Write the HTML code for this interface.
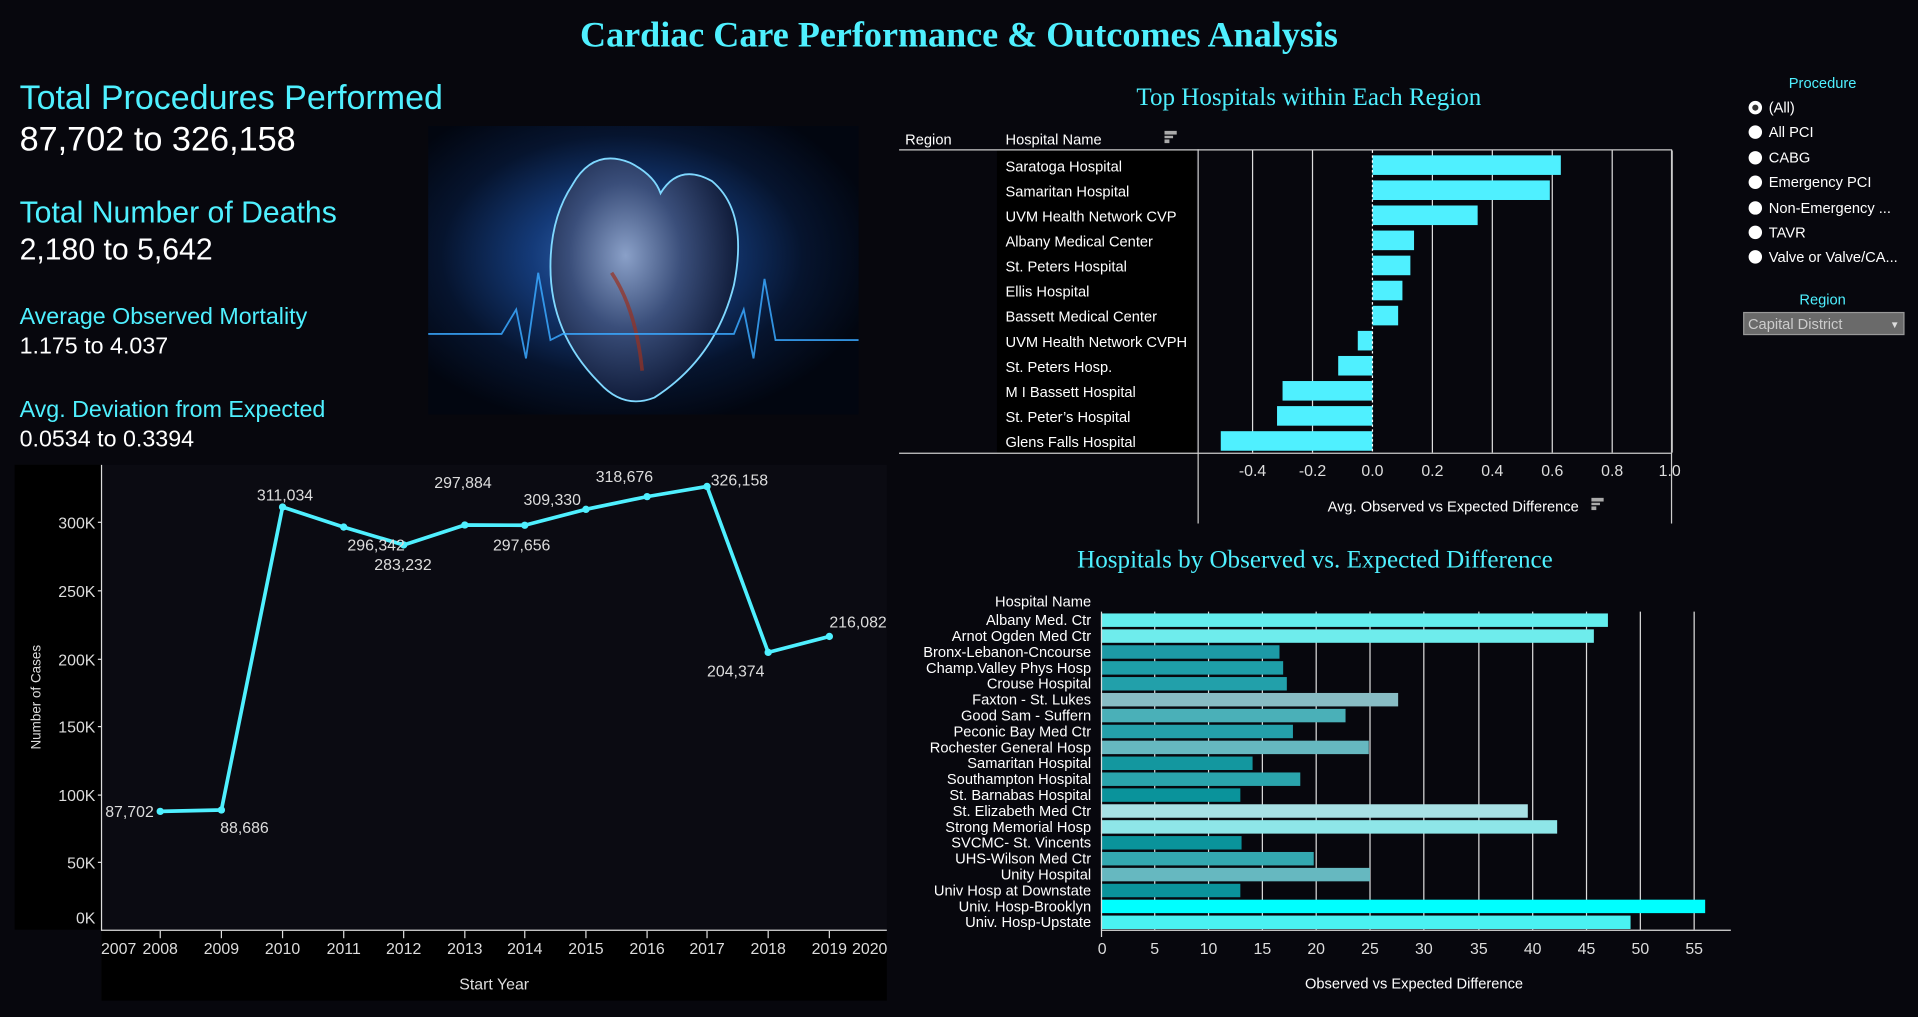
<!DOCTYPE html>
<html><head><meta charset="utf-8"><style>
html,body{margin:0;padding:0;background:#07070d;overflow:hidden}
#w{width:1568px;height:831px;transform:scale(1.22322);transform-origin:0 0;position:relative;background:#07070d;font-family:"Liberation Sans",sans-serif}
.t{position:absolute;white-space:nowrap}
.c{color:#4ff0ff}
</style></head><body><div id="w">
<div class="t" style="left:0;width:1568px;text-align:center;top:13px;font-family:'Liberation Serif',serif;font-weight:bold;font-size:29.5px;color:#4ff0ff">Cardiac Care Performance &amp; Outcomes Analysis</div>
<div class="t c" style="left:16px;top:64px;font-size:27.8px">Total Procedures Performed</div>
<div class="t" style="left:16px;top:98px;font-size:28px;color:#fff">87,702 to 326,158</div>
<div class="t c" style="left:16px;top:161px;font-size:24.7px">Total Number of Deaths</div>
<div class="t" style="left:16px;top:191px;font-size:24.7px;color:#fff">2,180 to 5,642</div>
<div class="t c" style="left:16px;top:249px;font-size:19px">Average Observed Mortality</div>
<div class="t" style="left:16px;top:273px;font-size:19px;color:#fff">1.175 to 4.037</div>
<div class="t c" style="left:16px;top:325px;font-size:19px">Avg. Deviation from Expected</div>
<div class="t" style="left:16px;top:349px;font-size:19px;color:#fff">0.0534 to 0.3394</div>
<!-- heart image -->
<svg class="t" style="left:350px;top:103px" width="352" height="236">
<defs><radialGradient id="hg" cx="0.45" cy="0.45" r="0.6"><stop offset="0" stop-color="#3a70c0"/><stop offset="0.35" stop-color="#143a78"/><stop offset="0.7" stop-color="#06142e"/><stop offset="1" stop-color="#020610"/></radialGradient>
<radialGradient id="hh" cx="0.4" cy="0.4" r="0.6"><stop offset="0" stop-color="#8aa0c8"/><stop offset="0.5" stop-color="#3a4e7a"/><stop offset="1" stop-color="#101c3a"/></radialGradient></defs>
<rect width="352" height="236" fill="url(#hg)"/>
<path d="M118 48 Q135 18 165 30 Q185 40 190 55 Q205 30 232 45 Q262 70 250 130 Q235 190 185 222 Q160 232 140 210 Q100 170 100 115 Q100 75 118 48Z" fill="url(#hh)" stroke="#7fd8ff" stroke-width="1.5"/>
<path d="M150 120 Q170 150 175 200" stroke="#9a3020" stroke-width="3" fill="none" opacity="0.7"/>
<polyline points="0,170 60,170 72,150 80,190 90,120 100,175 110,170 250,170 258,150 266,190 275,125 284,175 352,175" fill="none" stroke="#3aa8ff" stroke-width="1.5" opacity="0.85"/>
</svg>
<!-- line chart -->
<svg class="t" style="left:0;top:0" width="730" height="831">
<rect x="12" y="380" width="71" height="380" fill="#000"/>
<rect x="83" y="380" width="642" height="380" fill="#0b0b12"/>
<rect x="83" y="760" width="642" height="58" fill="#000"/>
<line x1="83" y1="380" x2="83" y2="761" stroke="#ddd" stroke-width="1"/>
<line x1="83" y1="760.5" x2="725" y2="760.5" stroke="#ddd" stroke-width="1"/>
<g fill="#ddd" font-size="13" text-anchor="end">
<text x="78" y="432">300K</text><text x="78" y="488">250K</text><text x="78" y="544">200K</text><text x="78" y="599">150K</text><text x="78" y="655">100K</text><text x="78" y="710">50K</text><text x="78" y="755">0K</text>
</g>
<g stroke="#ddd"><line x1="80" y1="427" x2="83" y2="427"/><line x1="80" y1="483" x2="83" y2="483"/><line x1="80" y1="539" x2="83" y2="539"/><line x1="80" y1="594" x2="83" y2="594"/><line x1="80" y1="650" x2="83" y2="650"/><line x1="80" y1="705" x2="83" y2="705"/>
<line x1="131" y1="761" x2="131" y2="767"/><line x1="181" y1="761" x2="181" y2="767"/><line x1="231" y1="761" x2="231" y2="767"/><line x1="281" y1="761" x2="281" y2="767"/><line x1="330" y1="761" x2="330" y2="767"/><line x1="380" y1="761" x2="380" y2="767"/><line x1="429" y1="761" x2="429" y2="767"/><line x1="479" y1="761" x2="479" y2="767"/><line x1="529" y1="761" x2="529" y2="767"/><line x1="578" y1="761" x2="578" y2="767"/><line x1="628" y1="761" x2="628" y2="767"/><line x1="678" y1="761" x2="678" y2="767"/></g>
<g fill="#ddd" font-size="13" text-anchor="middle">
<text x="97" y="780">2007</text><text x="131" y="780">2008</text><text x="181" y="780">2009</text><text x="231" y="780">2010</text><text x="281" y="780">2011</text><text x="330" y="780">2012</text><text x="380" y="780">2013</text><text x="429" y="780">2014</text><text x="479" y="780">2015</text><text x="529" y="780">2016</text><text x="578" y="780">2017</text><text x="628" y="780">2018</text><text x="678" y="780">2019</text><text x="711" y="780">2020</text>
<text x="404" y="809" font-size="13">Start Year</text>
</g>
<text transform="translate(33,570) rotate(-90)" fill="#ddd" font-size="11" text-anchor="middle">Number of Cases</text>
<polyline points="131,663.3 181,662.2 231,414.5 281,430.9 330,445.5 380,429.2 429,429.4 479,416.4 529,406 578,397.7 628,533.3 678,520.3" fill="none" stroke="#4ff0ff" stroke-width="3" stroke-linejoin="round"/>
<g fill="#4ff0ff"><circle cx="131" cy="663.3" r="3"/><circle cx="181" cy="662.2" r="3"/><circle cx="231" cy="414.5" r="3"/><circle cx="281" cy="430.9" r="3"/><circle cx="330" cy="445.5" r="3"/><circle cx="380" cy="429.2" r="3"/><circle cx="429" cy="429.4" r="3"/><circle cx="479" cy="416.4" r="3"/><circle cx="529" cy="406" r="3"/><circle cx="578" cy="397.7" r="3"/><circle cx="628" cy="533.3" r="3"/><circle cx="678" cy="520.3" r="3"/></g>
<g fill="#ddd" font-size="13">
<text x="86" y="668">87,702</text><text x="180" y="681">88,686</text><text x="210" y="409">311,034</text><text x="284" y="450">296,342</text><text x="306" y="466">283,232</text><text x="355" y="399">297,884</text><text x="403" y="450">297,656</text><text x="428" y="413">309,330</text><text x="487" y="394">318,676</text><text x="581" y="397">326,158</text><text x="578" y="553">204,374</text><text x="678" y="513">216,082</text>
</g>
</svg>
<!-- top bar chart -->
<svg class="t" style="left:0;top:0" width="1568" height="831">
<text x="1070" y="86" fill="#4ff0ff" font-family="Liberation Serif,serif" font-size="20.5" text-anchor="middle">Top Hospitals within Each Region</text>
<text x="740" y="118" fill="#fff" font-size="12">Region</text>
<text x="822" y="118" fill="#fff" font-size="12">Hospital Name</text>
<g fill="#aaa"><rect x="952" y="107" width="10" height="3"/><rect x="952" y="111" width="7" height="2"/><rect x="952" y="114" width="4" height="3"/></g>
<rect x="815" y="123" width="163" height="247" fill="#000"/>
<g stroke="#ddd" stroke-width="1"><line x1="1024" y1="123" x2="1024" y2="370"/><line x1="1073" y1="123" x2="1073" y2="370"/><line x1="1171" y1="123" x2="1171" y2="370"/><line x1="1220" y1="123" x2="1220" y2="370"/><line x1="1269" y1="123" x2="1269" y2="370"/><line x1="1318" y1="123" x2="1318" y2="370"/><line x1="1367" y1="123" x2="1367" y2="370"/></g>
<line x1="735" y1="122.5" x2="1366" y2="122.5" stroke="#ccc"/>
<line x1="735" y1="370.5" x2="1366" y2="370.5" stroke="#ccc"/>
<line x1="979.5" y1="122" x2="979.5" y2="428" stroke="#ccc"/>
<line x1="1366.5" y1="370" x2="1366.5" y2="428" stroke="#ccc"/>
<line x1="1366.5" y1="122" x2="1366.5" y2="370" stroke="#ccc"/>
<g fill="#4ff0ff">
<rect x="1122" y="127" width="154" height="16"/><rect x="1122" y="147.5" width="145" height="16"/><rect x="1122" y="168" width="86" height="16"/><rect x="1122" y="188.5" width="34" height="16"/><rect x="1122" y="209" width="31" height="16"/><rect x="1122" y="229.5" width="24.5" height="16"/><rect x="1122" y="250" width="21" height="16"/><rect x="1110" y="270.5" width="12" height="16"/><rect x="1094" y="291" width="28" height="16"/><rect x="1048.5" y="311.5" width="73.5" height="16"/><rect x="1044" y="332" width="78" height="16"/><rect x="998" y="352.5" width="124" height="16"/>
</g>
<line x1="1122" y1="123" x2="1122" y2="370" stroke="#fff" stroke-dasharray="2,2"/>
<g fill="#fff" font-size="12">
<text x="822" y="140">Saratoga Hospital</text><text x="822" y="160.5">Samaritan Hospital</text><text x="822" y="181">UVM Health Network CVP</text><text x="822" y="201.5">Albany Medical Center</text><text x="822" y="222">St. Peters Hospital</text><text x="822" y="242.5">Ellis Hospital</text><text x="822" y="263">Bassett Medical Center</text><text x="822" y="283.5">UVM Health Network CVPH</text><text x="822" y="304">St. Peters Hosp.</text><text x="822" y="324.5">M I Bassett Hospital</text><text x="822" y="345">St. Peter’s Hospital</text><text x="822" y="365.5">Glens Falls Hospital</text>
</g>
<g fill="#ddd" font-size="13" text-anchor="middle">
<text x="1024" y="389">-0.4</text><text x="1073" y="389">-0.2</text><text x="1122" y="389">0.0</text><text x="1171" y="389">0.2</text><text x="1220" y="389">0.4</text><text x="1269" y="389">0.6</text><text x="1318" y="389">0.8</text><text x="1365" y="389">1.0</text>
</g>
<text x="1188" y="418" fill="#fff" font-size="12" text-anchor="middle">Avg. Observed vs Expected Difference</text>
<g fill="#aaa"><rect x="1301" y="407" width="10" height="3"/><rect x="1301" y="411" width="7" height="2"/><rect x="1301" y="414" width="4" height="3"/></g>
<!-- filters -->
<text x="1490" y="72" fill="#4ff0ff" font-size="12" text-anchor="middle">Procedure</text>
<g fill="#fff" font-size="12">
<circle cx="1435" cy="88" r="5.5"/><circle cx="1435" cy="88" r="2.5" fill="#333"/><text x="1446" y="92">(All)</text>
<circle cx="1435" cy="108" r="5.5"/><text x="1446" y="112">All PCI</text>
<circle cx="1435" cy="129" r="5.5"/><text x="1446" y="133">CABG</text>
<circle cx="1435" cy="149" r="5.5"/><text x="1446" y="153">Emergency PCI</text>
<circle cx="1435" cy="170" r="5.5"/><text x="1446" y="174">Non-Emergency ...</text>
<circle cx="1435" cy="190" r="5.5"/><text x="1446" y="194">TAVR</text>
<circle cx="1435" cy="210" r="5.5"/><text x="1446" y="214">Valve or Valve/CA...</text>
</g>
<text x="1490" y="249" fill="#4ff0ff" font-size="12" text-anchor="middle">Region</text>
<rect x="1425.5" y="255.5" width="131" height="18" fill="#6a6a6a" stroke="#999"/>
<text x="1429" y="269" fill="#ccc" font-size="12">Capital District</text>
<text x="1545" y="268" fill="#ddd" font-size="8">▼</text>
<!-- bottom chart -->
<text x="1075" y="464" fill="#4ff0ff" font-family="Liberation Serif,serif" font-size="20.5" text-anchor="middle">Hospitals by Observed vs. Expected Difference</text>
<text x="892" y="496" fill="#fff" font-size="12" text-anchor="end">Hospital Name</text>
<g stroke="#ddd"><line x1="944" y1="500" x2="944" y2="760"/><line x1="988" y1="500" x2="988" y2="760"/><line x1="1032" y1="500" x2="1032" y2="760"/><line x1="1076" y1="500" x2="1076" y2="760"/><line x1="1120" y1="500" x2="1120" y2="760"/><line x1="1164" y1="500" x2="1164" y2="760"/><line x1="1209" y1="500" x2="1209" y2="760"/><line x1="1253" y1="500" x2="1253" y2="760"/><line x1="1297" y1="500" x2="1297" y2="760"/><line x1="1341" y1="500" x2="1341" y2="760"/><line x1="1385" y1="500" x2="1385" y2="760"/></g>
<g>
<rect x="900" y="501.5" width="414.5" height="11" fill="#63eeee"/>
<rect x="900" y="514.5" width="403" height="11" fill="#6eecec"/>
<rect x="900" y="527.5" width="146" height="11" fill="#1d9aa6"/>
<rect x="900" y="540.5" width="149" height="11" fill="#1e9ea8"/>
<rect x="900" y="553.5" width="152" height="11" fill="#22a0aa"/>
<rect x="900" y="566.5" width="243" height="11" fill="#88bcc4"/>
<rect x="900" y="579.5" width="200" height="11" fill="#4ab0b8"/>
<rect x="900" y="592.5" width="157" height="11" fill="#24a0aa"/>
<rect x="900" y="605.5" width="219" height="11" fill="#66b8c0"/>
<rect x="900" y="618.5" width="124" height="11" fill="#13979f"/>
<rect x="900" y="631.5" width="163" height="11" fill="#2aa4ac"/>
<rect x="900" y="644.5" width="114" height="11" fill="#0a939b"/>
<rect x="900" y="657.5" width="349" height="11" fill="#a8e0e4"/>
<rect x="900" y="670.5" width="373" height="11" fill="#8ee6e8"/>
<rect x="900" y="683.5" width="115" height="11" fill="#0a939b"/>
<rect x="900" y="696.5" width="174" height="11" fill="#33a8b0"/>
<rect x="900" y="709.5" width="220" height="11" fill="#66b8c0"/>
<rect x="900" y="722.5" width="114" height="11" fill="#0a939b"/>
<rect x="900" y="735.5" width="494" height="11" fill="#00ffff"/>
<rect x="900" y="748.5" width="433" height="11" fill="#4af2f2"/>
</g>
<line x1="900.5" y1="500" x2="900.5" y2="766" stroke="#ddd"/>
<line x1="900" y1="760.5" x2="1415" y2="760.5" stroke="#ddd"/>
<g fill="#fff" font-size="12" text-anchor="end">
<text x="892" y="511">Albany Med. Ctr</text><text x="892" y="524">Arnot Ogden Med Ctr</text><text x="892" y="537">Bronx-Lebanon-Cncourse</text><text x="892" y="550">Champ.Valley Phys Hosp</text><text x="892" y="563">Crouse Hospital</text><text x="892" y="576">Faxton - St. Lukes</text><text x="892" y="589">Good Sam - Suffern</text><text x="892" y="602">Peconic Bay Med Ctr</text><text x="892" y="615">Rochester General Hosp</text><text x="892" y="628">Samaritan Hospital</text><text x="892" y="641">Southampton Hospital</text><text x="892" y="654">St. Barnabas Hospital</text><text x="892" y="667">St. Elizabeth Med Ctr</text><text x="892" y="680">Strong Memorial Hosp</text><text x="892" y="693">SVCMC- St. Vincents</text><text x="892" y="706">UHS-Wilson Med Ctr</text><text x="892" y="719">Unity Hospital</text><text x="892" y="732">Univ Hosp at Downstate</text><text x="892" y="745">Univ. Hosp-Brooklyn</text><text x="892" y="758">Univ. Hosp-Upstate</text>
</g>
<g fill="#ddd" font-size="13" text-anchor="middle">
<text x="901" y="780">0</text><text x="944" y="780">5</text><text x="988" y="780">10</text><text x="1032" y="780">15</text><text x="1076" y="780">20</text><text x="1120" y="780">25</text><text x="1164" y="780">30</text><text x="1209" y="780">35</text><text x="1253" y="780">40</text><text x="1297" y="780">45</text><text x="1341" y="780">50</text><text x="1385" y="780">55</text>
</g>
<text x="1156" y="808" fill="#fff" font-size="12" text-anchor="middle">Observed vs Expected Difference</text>
</svg>
</div></body></html>
